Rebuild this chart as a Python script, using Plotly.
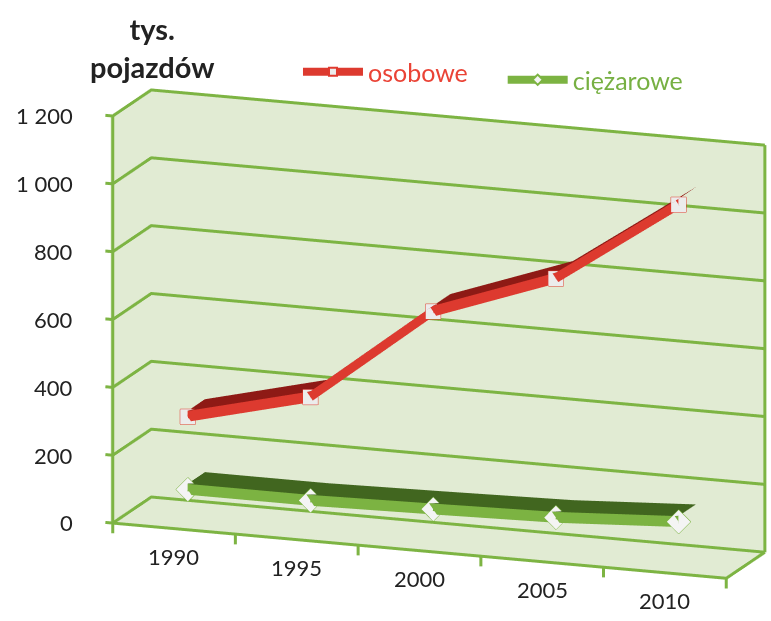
import plotly.graph_objects as go

# Data (thousands of vehicles)
years = ["1990", "1995", "2000", "2005", "2010"]
osobowe = [320, 410, 695, 825, 1075]
ciezarowe = [105, 105, 112, 120, 140]
z_ticks = [0, 200, 400, 600, 800, 1000, 1200]
z_tick_text = ["0", "200", "400", "600", "800", "1 000", "1 200"]

WALL = "#e1ebd3"
GRID = "#7db443"
FONT = "Lato"
TEXT = "#222222"

RED_FRONT = "#dd3a2f"
RED_TOP = "#8e1a15"
GREEN_FRONT = "#7cb342"
GREEN_TOP = "#41661f"

xs = list(range(len(years)))
X0, X1 = -0.5, len(years) - 0.5
Y0, Y1 = 0.0, 1.0
Z0, Z1 = z_ticks[0], z_ticks[-1]
THICK = 32                          # vertical thickness of a ribbon (data units)
LIGHT = dict(ambient=1.0, diffuse=0, specular=0, roughness=1, fresnel=0)


def strip(xv, yv, zv, color):
    """Mesh of quads built from consecutive vertex pairs."""
    I, J, K = [], [], []
    for n in range(len(xv) // 2 - 1):
        a = 2 * n
        I += [a, a + 1]
        J += [a + 1, a + 3]
        K += [a + 2, a + 2]
    return go.Mesh3d(x=xv, y=yv, z=zv, i=I, j=J, k=K, color=color,
                     flatshading=True, lighting=LIGHT, hoverinfo="skip",
                     showlegend=False)


def ribbon(values, y_front, depth, top_color, front_color):
    tx, ty, tz, fx, fy, fz = [], [], [], [], [], []
    for x, v in zip(xs, values):
        tx += [x, x]
        ty += [y_front, y_front + depth]
        tz += [v, v]
        fx += [x, x]
        fy += [y_front, y_front]
        fz += [v, v - THICK]
    return [strip(tx, ty, tz, top_color), strip(fx, fy, fz, front_color)]


def poly(segments):
    """Join 3D polylines into one trace, separated by gaps."""
    px, py, pz = [], [], []
    for seg in segments:
        for (a, b, c) in seg:
            px.append(a)
            py.append(b)
            pz.append(c)
        px.append(None)
        py.append(None)
        pz.append(None)
    return px, py, pz


fig = go.Figure()

# walls: side wall, back wall and floor (set a little behind their gridlines)
ex, ey, ez = 0.02, 0.015, 4
fig.add_trace(strip([X0 - ex] * 4, [Y0, Y0, Y1 + ey, Y1 + ey],
                    [Z0, Z1, Z0, Z1], WALL))
fig.add_trace(strip([X0 - ex, X0 - ex, X1, X1], [Y1 + ey] * 4,
                    [Z0, Z1, Z0, Z1], WALL))
fig.add_trace(strip([X0 - ex, X0 - ex, X1, X1], [Y0, Y1 + ey, Y0, Y1 + ey],
                    [Z0 - ez] * 4, WALL))

# gridlines on the side wall and the back wall
grid_segs = [[(X0, Y0, v), (X0, Y1, v), (X1, Y1, v)] for v in z_ticks]
# frame edges: front-left upright, back-right upright, floor front and right edges
grid_segs += [
    [(X0, Y0, Z0), (X0, Y0, Z1)],
    [(X1, Y1, Z0), (X1, Y1, Z1)],
    [(X0, Y0, Z0), (X1, Y0, Z0), (X1, Y1, Z0)],
]
# tick marks: left of the value axis, below the category boundaries
grid_segs += [[(X0, Y0, v), (X0 - 0.06, Y0, v)] for v in z_ticks]
grid_segs += [[(b - 0.5, Y0, Z0), (b - 0.5, Y0, Z0 - 30)]
              for b in range(len(years) + 1)]
gx, gy, gz = poly(grid_segs)
fig.add_trace(go.Scatter3d(x=gx, y=gy, z=gz, mode="lines",
                           line=dict(color=GRID, width=6),
                           hoverinfo="skip", showlegend=False))

RIB_Y, DEPTH = 0.35, 0.45
for t in ribbon(ciezarowe, RIB_Y, DEPTH, GREEN_TOP, GREEN_FRONT):
    fig.add_trace(t)
for t in ribbon(osobowe, RIB_Y, DEPTH, RED_TOP, RED_FRONT):
    fig.add_trace(t)

fig.add_trace(go.Scatter3d(
    x=xs, y=[RIB_Y] * len(xs), z=[v - THICK / 2 for v in osobowe],
    mode="lines+markers",
    name='<span style="color:#ea4336">osobowe</span>',
    legend="legend",
    line=dict(color=RED_FRONT, width=8),
    marker=dict(symbol="square", size=8, color="#ececec",
                line=dict(color="#e03a2f", width=2)),
    hoverinfo="skip",
))
fig.add_trace(go.Scatter3d(
    x=xs, y=[RIB_Y] * len(xs), z=[v - THICK / 2 for v in ciezarowe],
    mode="lines+markers",
    name='<span style="color:#77b043">ciężarowe</span>',
    legend="legend2",
    line=dict(color=GREEN_FRONT, width=8),
    marker=dict(symbol="diamond", size=8, color="#f4f4f4",
                line=dict(color=GREEN_FRONT, width=2)),
    hoverinfo="skip",
))

axis_common = dict(
    showbackground=False, showgrid=False,
    showline=False, showticklabels=False, ticks="",
    showspikes=False, zeroline=False, title=dict(text=""),
)

label_font = dict(size=22, color=TEXT, family=FONT)
scene_labels = [
    dict(x=x, y=Y0, z=Z0, text=yr, showarrow=False, yshift=-28,
         font=label_font)
    for x, yr in zip(xs, years)
] + [
    dict(x=X0, y=Y0, z=v, text=t, showarrow=False, xanchor="right",
         xshift=-37, font=label_font)
    for v, t in zip(z_ticks, z_tick_text)
]

legend_style = dict(font=dict(size=25, family=FONT), itemwidth=60,
                    bgcolor="rgba(0,0,0,0)", xanchor="left", yanchor="middle")

# axis ranges padded so edges, walls and tick marks are not clipped
xr = [X0 - 0.15, X1 + 0.03]
yr_ = [Y0, Y1 + 0.03]
zr = [Z0 - 45, Z1 + 10]
fig.update_layout(
    width=771, height=621,
    margin=dict(l=0, r=0, t=0, b=0),
    paper_bgcolor="white",
    font=dict(family=FONT, color=TEXT, size=22),
    showlegend=True,
    legend=dict(x=0.3865, y=1 - 72 / 621, **legend_style),
    legend2=dict(x=0.652, y=1 - 80 / 621, **legend_style),
    scene=dict(
        domain=dict(x=[0.12, 1.0], y=[0.018, 0.891]),
        xaxis=dict(range=xr, **axis_common),
        yaxis=dict(range=yr_, **axis_common),
        zaxis=dict(range=zr, **axis_common),
        aspectmode="manual",
        aspectratio=dict(x=2.41 * (xr[1] - xr[0]) / (X1 - X0),
                         y=0.415 * (yr_[1] - yr_[0]) / (Y1 - Y0),
                         z=1.55 * (zr[1] - zr[0]) / (Z1 - Z0)),
        camera=dict(eye=dict(x=0.332, y=-0.910, z=0.2465),
                    center=dict(x=0, y=0, z=0),
                    up=dict(x=0, y=0, z=1),
                    projection=dict(type="orthographic")),
        annotations=scene_labels,
    ),
    annotations=[
        dict(text="<b>tys.<br>pojazdów</b>", x=152 / 771, y=1 - 47 / 621,
             xref="paper", yref="paper", xanchor="center", yanchor="middle",
             showarrow=False, font=dict(size=29, color=TEXT, family=FONT),
             align="center"),
    ],
)

fig.write_html("out.html")
